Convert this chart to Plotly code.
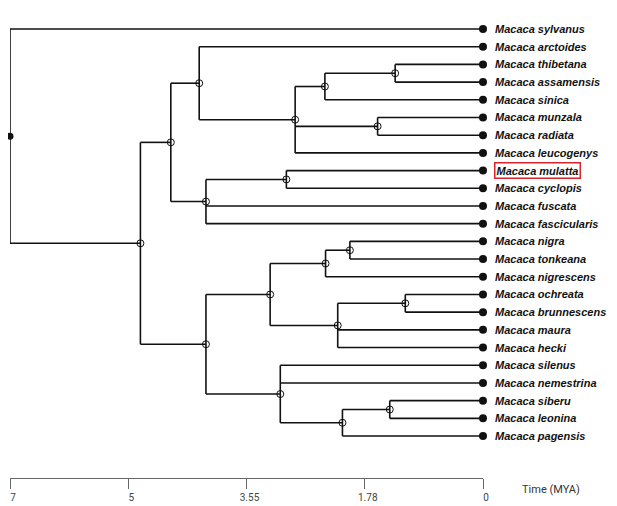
import plotly.graph_objects as go

# tips, top to bottom
tips = [
    "Macaca sylvanus", "Macaca arctoides", "Macaca thibetana", "Macaca assamensis",
    "Macaca sinica", "Macaca munzala", "Macaca radiata", "Macaca leucogenys",
    "Macaca mulatta", "Macaca cyclopis", "Macaca fuscata", "Macaca fascicularis",
    "Macaca nigra", "Macaca tonkeana", "Macaca nigrescens", "Macaca ochreata",
    "Macaca brunnescens", "Macaca maura", "Macaca hecki", "Macaca silenus",
    "Macaca nemestrina", "Macaca siberu", "Macaca leonina", "Macaca pagensis",
]
highlight = "Macaca mulatta"

# internal nodes (age in MYA) and their children
node_ids = ["root", "A", "B", "C", "D", "E", "F", "G", "H", "I",
            "J", "K", "M", "N", "O", "P", "L", "Q", "R"]
node_ages = [7.0, 5.07, 4.62, 4.20, 2.78, 2.34, 1.30, 1.56, 4.10, 2.91,
             4.10, 3.15, 2.33, 1.97, 2.15, 1.15, 3.00, 2.08, 1.38]
node_children = [
    ["Macaca sylvanus", "A"],
    ["B", "J"],
    ["C", "H"],
    ["Macaca arctoides", "D"],
    ["E", "G", "Macaca leucogenys"],
    ["F", "Macaca sinica"],
    ["Macaca thibetana", "Macaca assamensis"],
    ["Macaca munzala", "Macaca radiata"],
    ["I", "Macaca fuscata", "Macaca fascicularis"],
    ["Macaca mulatta", "Macaca cyclopis"],
    ["K", "L"],
    ["M", "O"],
    ["N", "Macaca nigrescens"],
    ["Macaca nigra", "Macaca tonkeana"],
    ["P", "Macaca maura", "Macaca hecki"],
    ["Macaca ochreata", "Macaca brunnescens"],
    ["Macaca silenus", "Macaca nemestrina", "Q"],
    ["R", "Macaca pagensis"],
    ["Macaca siberu", "Macaca leonina"],
]

tick_vals = [7, 5.25, 3.5, 1.75, 0]
tick_text = ["7", "5", "3.55", "1.78", "0"]

# layout positions
age = dict(zip(node_ids, node_ages))
kids = dict(zip(node_ids, node_children))
ypos = {t: i for i, t in enumerate(tips)}
for t in tips:
    age[t] = 0.0


def place(n):
    if n in ypos:
        return ypos[n]
    ys = [place(c) for c in kids[n]]
    ypos[n] = (min(ys) + max(ys)) / 2
    return ypos[n]


place("root")

ex, ey = [], []
for n in node_ids:
    ys = [ypos[c] for c in kids[n]]
    ex += [age[n], age[n], None]
    ey += [min(ys), max(ys), None]
    for c in kids[n]:
        ex += [age[n], age[c], None]
        ey += [ypos[c], ypos[c], None]

fig = go.Figure()
fig.add_trace(go.Scatter(x=ex, y=ey, mode="lines", cliponaxis=False,
                         line=dict(color="#111111", width=1.6),
                         hoverinfo="skip"))
inner = node_ids[1:]
fig.add_trace(go.Scatter(x=[age[n] for n in inner], y=[ypos[n] for n in inner],
                         mode="markers",
                         marker=dict(symbol="circle-open", size=7,
                                     color="#111111", line=dict(width=1))))
fig.add_trace(go.Scatter(x=[age["root"]], y=[ypos["root"]], mode="markers",
                         cliponaxis=False, marker=dict(size=7, color="#111111")))
fig.add_trace(go.Scatter(x=[0] * len(tips), y=list(range(len(tips))),
                         mode="markers", cliponaxis=False,
                         marker=dict(size=8, color="#111111")))

for i, t in enumerate(tips):
    hl = t == highlight
    fig.add_annotation(x=0, y=i, xref="x", yref="y", text=t, showarrow=False,
                       xanchor="left", xshift=11,
                       font=dict(family="Liberation Sans", size=11, color="#111111",
                                 weight="bold", style="italic"),
                       bordercolor="#d9232b" if hl else "rgba(0,0,0,0)",
                       borderwidth=1.5 if hl else 0, borderpad=1)

fig.add_annotation(x=1.144, y=-0.024, xref="paper", yref="paper",
                   xanchor="center", yanchor="middle",
                   text="Time (MYA)", showarrow=False,
                   font=dict(family="Roboto", size=11, color="#333333"))

# page body adds an 8px offset, so the figure is sized to the visible area
fig.update_layout(
    width=609, height=498,
    margin=dict(l=2, r=134, t=2, b=28, autoexpand=False),
    plot_bgcolor="white", paper_bgcolor="white",
    showlegend=False,
    xaxis=dict(range=[7, 0], tickvals=tick_vals, ticktext=tick_text,
               showgrid=False, zeroline=False, showline=True, automargin=False,
               linecolor="#666666", linewidth=1, ticks="outside", ticklen=10,
               tickcolor="#666666", tickwidth=1, ticklabelshift=-3,
               ticklabeloverflow="allow",
               tickfont=dict(family="Roboto", size=10, color="#444444")),
    yaxis=dict(range=[25.37, -1.073], visible=False, automargin=False),
)

fig.write_html("out.html")
